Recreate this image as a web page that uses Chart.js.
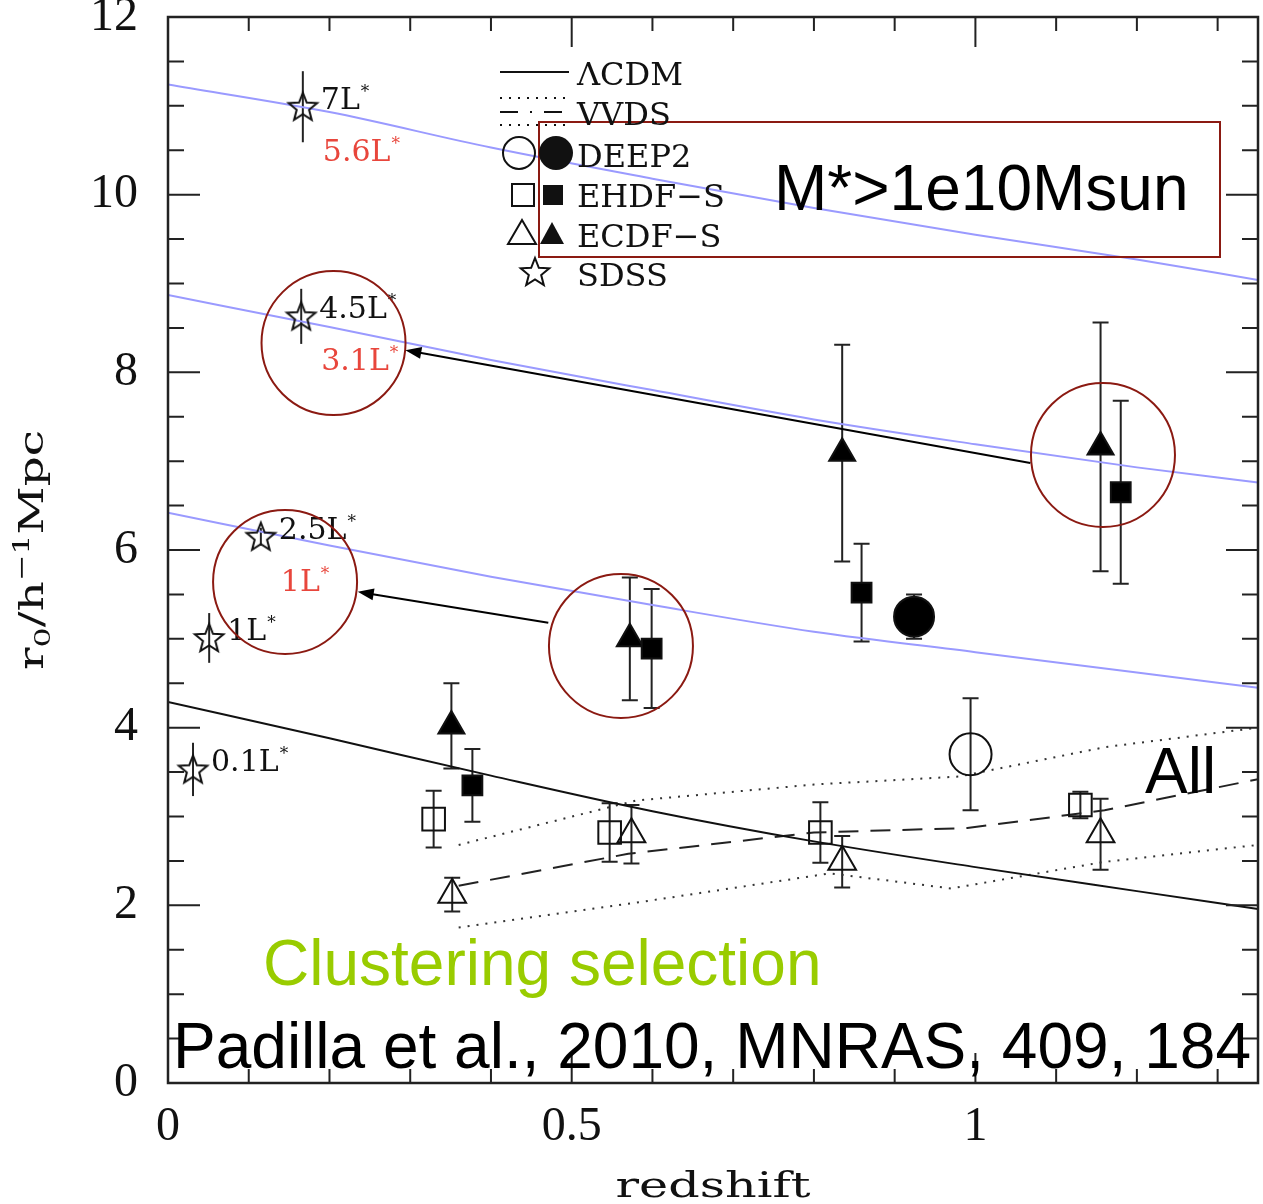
<!DOCTYPE html>
<html>
<head>
<meta charset="utf-8">
<script src="https://cdn.jsdelivr.net/npm/chart.js@4.4.0/dist/chart.umd.min.js"></script>
<style>
  body { margin: 0; background: #fff; overflow: hidden; }
  #wrap { width: 1263px; height: 1204px; }
</style>
</head>
<body>
<div id="wrap"><canvas id="chart"></canvas></div>
<script>
// tick labels
var xTicks = [0, 0.5, 1];
var yTicks = [0, 2, 4, 6, 8, 10, 12];

// model curves
var curveZ = [0, 0.2, 0.4, 0.6, 0.8, 1.0, 1.2, 1.35];
var lcdmR = [4.29, 3.88, 3.46, 3.06, 2.72, 2.43, 2.16, 1.96];
var blueTopR = [11.24, 10.93, 10.53, 10.18, 9.85, 9.55, 9.27, 9.04];
var blueMidR = [8.87, 8.51, 8.14, 7.80, 7.47, 7.19, 6.93, 6.76];
var blueLowR = [6.42, 6.05, 5.70, 5.38, 5.08, 4.85, 4.62, 4.45];

// VVDS mean and its range
var vvdsMeanZ = [0.36, 0.57, 0.80, 0.99, 1.16, 1.35];
var vvdsMeanR = [2.22, 2.58, 2.82, 2.87, 3.07, 3.42];
var vvdsHiZ = [0.36, 0.58, 0.80, 0.98, 1.16, 1.35];
var vvdsHiR = [2.68, 3.18, 3.36, 3.45, 3.78, 4.00];
var vvdsLoZ = [0.36, 0.58, 0.82, 0.97, 1.16, 1.35];
var vvdsLoR = [1.75, 2.03, 2.36, 2.19, 2.49, 2.68];

// measurements: open = all galaxies, filled = M* > 1e10 Msun
var deep2OpenZ = [0.994];
var deep2OpenR = [3.70];
var deep2OpenErr = [0.63];
var deep2FillZ = [0.924];
var deep2FillR = [5.25];
var deep2FillErr = [0.25];

var ehdfOpenZ = [0.329, 0.547, 0.808, 1.130];
var ehdfOpenR = [2.97, 2.82, 2.82, 3.13];
var ehdfOpenErr = [0.32, 0.33, 0.34, 0.15];
var ehdfFillZ = [0.377, 0.599, 0.859, 1.180];
var ehdfFillR = [3.35, 4.89, 5.52, 6.65];
var ehdfFillErr = [0.41, 0.67, 0.55, 1.03];

var ecdfOpenZ = [0.352, 0.574, 0.835, 1.155];
var ecdfOpenR = [2.12, 2.80, 2.49, 2.80];
var ecdfOpenErr = [0.19, 0.33, 0.29, 0.40];
var ecdfFillZ = [0.351, 0.572, 0.835, 1.155];
var ecdfFillR = [4.02, 5.00, 7.09, 7.16];
var ecdfFillErr = [0.48, 0.69, 1.22, 1.40];

var sdssZ = [0.031, 0.051, 0.115, 0.165, 0.167];
var sdssR = [3.53, 5.01, 6.15, 8.63, 10.99];
var sdssErr = [0.30, 0.28, 0.10, 0.31, 0.40];
var sdssLum = ['0.1L*', '1L*', '2.5L*', '4.5L*', '7L*'];
var sdssLumMass = ['', '', '1L*', '3.1L*', '5.6L*'];

function pts(xs, ys) {
  return xs.map(function (x, i) { return { x: x, y: ys[i] }; });
}

// open five-point star used for SDSS
var starImg = (function () {
  var c = document.createElement('canvas');
  c.width = 34; c.height = 34;
  var g = c.getContext('2d');
  g.strokeStyle = '#111';
  g.lineWidth = 2;
  g.beginPath();
  for (var i = 0; i < 10; i++) {
    var r = i % 2 === 0 ? 15 : 6.5;
    var a = -Math.PI / 2 + i * Math.PI / 5;
    var px = 17 + r * Math.cos(a), py = 18 + r * Math.sin(a);
    if (i === 0) g.moveTo(px, py); else g.lineTo(px, py);
  }
  g.closePath();
  g.stroke();
  return c;
})();

function pointSet(label, xs, ys, errs, style, radius, filled, cap) {
  return {
    label: label,
    data: pts(xs, ys),
    errs: errs,
    cap: cap,
    showLine: false,
    pointStyle: style,
    pointRadius: radius,
    pointHoverRadius: radius,
    pointBackgroundColor: filled ? '#000' : 'rgba(0,0,0,0)',
    pointBorderColor: '#111',
    pointBorderWidth: 2
  };
}

function lineSet(label, xs, ys, color, dash, smooth) {
  return {
    label: label,
    data: pts(xs, ys),
    showLine: true,
    pointRadius: 0,
    borderColor: color,
    borderWidth: 2,
    borderDash: dash,
    cubicInterpolationMode: smooth ? 'monotone' : 'default',
    tension: 0
  };
}

function arrow(ctx, x1, y1, x2, y2) {
  var ang = Math.atan2(y2 - y1, x2 - x1);
  ctx.beginPath();
  ctx.moveTo(x1, y1);
  ctx.lineTo(x2 - 12 * Math.cos(ang), y2 - 12 * Math.sin(ang));
  ctx.stroke();
  ctx.beginPath();
  ctx.moveTo(x2, y2);
  ctx.lineTo(x2 - 16 * Math.cos(ang) + 6 * Math.sin(ang), y2 - 16 * Math.sin(ang) - 6 * Math.cos(ang));
  ctx.lineTo(x2 - 16 * Math.cos(ang) - 6 * Math.sin(ang), y2 - 16 * Math.sin(ang) + 6 * Math.cos(ang));
  ctx.closePath();
  ctx.fill();
}

function lumText(ctx, s, x, y) {
  var base = s.replace('*', '');
  ctx.font = '30px "DejaVu Serif"';
  ctx.fillText(base, x, y);
  var w = ctx.measureText(base).width;
  ctx.font = '17px "DejaVu Serif"';
  ctx.fillText('*', x + w + 1, y - 12);
}

function stretchedText(ctx, parts, cx, cy, len, rot) {
  var total = 0;
  parts.forEach(function (p) { ctx.font = p[1]; total += ctx.measureText(p[0]).width; });
  ctx.save();
  ctx.translate(cx, cy);
  ctx.rotate(rot);
  ctx.scale(len / total, 1);
  var x = -total / 2;
  parts.forEach(function (p) {
    ctx.font = p[1];
    ctx.fillText(p[0], x, p[2]);
    x += ctx.measureText(p[0]).width;
  });
  ctx.restore();
}

var decor = {
  id: 'decor',
  beforeDatasetsDraw: function (chart) {
    var ctx = chart.ctx, xs = chart.scales.x, ys = chart.scales.y;
    ctx.save();
    ctx.strokeStyle = '#222';
    ctx.lineWidth = 2;
    chart.data.datasets.forEach(function (ds) {
      if (!ds.errs) return;
      ds.data.forEach(function (p, i) {
        var px = xs.getPixelForValue(p.x);
        var top = ys.getPixelForValue(p.y + ds.errs[i]);
        var bot = ys.getPixelForValue(p.y - ds.errs[i]);
        ctx.beginPath();
        ctx.moveTo(px, top);
        ctx.lineTo(px, bot);
        if (ds.cap) {
          ctx.moveTo(px - ds.cap, top); ctx.lineTo(px + ds.cap, top);
          ctx.moveTo(px - ds.cap, bot); ctx.lineTo(px + ds.cap, bot);
        }
        ctx.stroke();
      });
    });
    ctx.restore();
  },
  afterDraw: function (chart) {
    var ctx = chart.ctx, a = chart.chartArea, xs = chart.scales.x, ys = chart.scales.y;
    var X = function (v) { return xs.getPixelForValue(v); };
    var Y = function (v) { return ys.getPixelForValue(v); };
    ctx.save();

    // frame with inward ticks
    ctx.strokeStyle = '#222';
    ctx.lineWidth = 2.5;
    ctx.strokeRect(a.left, a.top, a.right - a.left, a.bottom - a.top);
    ctx.lineWidth = 2;
    ctx.beginPath();
    for (var k = 0; k <= 24; k++) {
      var y = Y(k / 2), len = k % 4 === 0 ? 32 : 16;
      ctx.moveTo(a.left, y); ctx.lineTo(a.left + len, y);
      ctx.moveTo(a.right, y); ctx.lineTo(a.right - len, y);
    }
    for (var j = 0; j <= 13; j++) {
      var x = X(j / 10), tl = j % 5 === 0 ? 30 : 14;
      ctx.moveTo(x, a.top); ctx.lineTo(x, a.top + tl);
      ctx.moveTo(x, a.bottom); ctx.lineTo(x, a.bottom - tl);
    }
    ctx.stroke();

    // SDSS luminosity labels
    ctx.textBaseline = 'alphabetic';
    ctx.textAlign = 'left';
    sdssZ.forEach(function (z, i) {
      var px = X(z) + 18, py = Y(sdssR[i]) + 2;
      ctx.fillStyle = '#111';
      lumText(ctx, sdssLum[i], px, py);
      if (sdssLumMass[i]) {
        ctx.fillStyle = '#e8463c';
        lumText(ctx, sdssLumMass[i], px + 2, py + 52);
      }
    });

    // highlight circles, arrows and box
    ctx.strokeStyle = '#8b1a12';
    ctx.lineWidth = 2;
    [[0.205, 8.33], [0.145, 5.64], [0.561, 4.92], [1.158, 7.07]].forEach(function (c) {
      ctx.beginPath();
      ctx.arc(X(c[0]), Y(c[1]), 72, 0, Math.PI * 2);
      ctx.stroke();
    });
    ctx.strokeRect(539, 122, 681, 135);

    ctx.strokeStyle = '#000';
    ctx.fillStyle = '#000';
    ctx.lineWidth = 2;
    arrow(ctx, X(1.068), Y(6.98), X(0.294), Y(8.25));
    arrow(ctx, X(0.471), Y(5.18), X(0.235), Y(5.53));

    // legend
    ctx.fillStyle = '#111';
    ctx.strokeStyle = '#111';
    ctx.font = '32px "DejaVu Serif"';
    ctx.lineWidth = 2;
    ctx.beginPath(); ctx.moveTo(500, 72); ctx.lineTo(569, 72); ctx.stroke();
    ctx.fillText('\u039BCDM', 577, 85);
    ctx.setLineDash([2, 7]);
    ctx.beginPath(); ctx.moveTo(500, 98); ctx.lineTo(569, 98); ctx.stroke();
    ctx.beginPath(); ctx.moveTo(500, 125); ctx.lineTo(569, 125); ctx.stroke();
    ctx.setLineDash([18, 12, 2, 12]);
    ctx.beginPath(); ctx.moveTo(500, 112); ctx.lineTo(569, 112); ctx.stroke();
    ctx.setLineDash([]);
    ctx.fillText('VVDS', 577, 125);

    ctx.beginPath(); ctx.arc(519, 153, 16, 0, Math.PI * 2); ctx.stroke();
    ctx.beginPath(); ctx.arc(556, 153, 17, 0, Math.PI * 2); ctx.fill();
    ctx.fillText('DEEP2', 577, 167);

    ctx.strokeRect(512, 184, 22, 22);
    ctx.fillRect(543, 185, 20, 20);
    ctx.fillText('EHDF\u2212S', 577, 207);

    ctx.beginPath(); ctx.moveTo(522, 220); ctx.lineTo(536, 244); ctx.lineTo(508, 244); ctx.closePath(); ctx.stroke();
    ctx.beginPath(); ctx.moveTo(552, 222); ctx.lineTo(564, 244); ctx.lineTo(540, 244); ctx.closePath(); ctx.fill();
    ctx.fillText('ECDF\u2212S', 577, 247);

    ctx.drawImage(starImg, 535 - 17, 273 - 18);
    ctx.fillText('SDSS', 577, 286);

    // annotations
    ctx.fillStyle = '#000';
    ctx.font = '64px "Liberation Sans"';
    ctx.fillText('M*>1e10Msun', 774, 210);
    ctx.fillText('All', 1145, 793);
    ctx.fillStyle = '#99cc00';
    ctx.fillText('Clustering selection', 263, 985);
    ctx.fillStyle = '#000';
    ctx.fillText('Padilla et al., 2010, MNRAS, 409, 184', 173, 1068);

    // axis titles
    ctx.fillStyle = '#111';
    stretchedText(ctx, [['redshift', '36px "DejaVu Serif"', 0]], (a.left + a.right) / 2, 1197, 195, 0);
    stretchedText(ctx, [
      ['r', '34px "DejaVu Serif"', 0],
      ['0', '23px "DejaVu Serif"', 7],
      ['/', '34px "DejaVu Serif"', 0],
      ['h', '34px "DejaVu Serif"', 0],
      ['\u22121', '23px "DejaVu Serif"', -14],
      ['Mpc', '34px "DejaVu Serif"', 0]
    ], 43, 550, 240, -Math.PI / 2);

    ctx.restore();
  }
};

var datasets = [
  pointSet('DEEP2 all', deep2OpenZ, deep2OpenR, deep2OpenErr, 'circle', 21, false, 8),
  pointSet('DEEP2 massive', deep2FillZ, deep2FillR, deep2FillErr, 'circle', 20, true, 8),
  pointSet('EHDF-S all', ehdfOpenZ, ehdfOpenR, ehdfOpenErr, 'rect', 16, false, 8),
  pointSet('EHDF-S massive', ehdfFillZ, ehdfFillR, ehdfFillErr, 'rect', 14, true, 8),
  pointSet('ECDF-S all', ecdfOpenZ, ecdfOpenR, ecdfOpenErr, 'triangle', 16, false, 8),
  pointSet('ECDF-S massive', ecdfFillZ, ecdfFillR, ecdfFillErr, 'triangle', 15, true, 8),
  pointSet('SDSS', sdssZ, sdssR, sdssErr, starImg, 15, false, 0),
  lineSet('LCDM', curveZ, lcdmR, '#111', [], true),
  lineSet('VVDS', vvdsMeanZ, vvdsMeanR, '#222', [20, 12], false),
  lineSet('VVDS hi', vvdsHiZ, vvdsHiR, '#333', [2, 7], false),
  lineSet('VVDS lo', vvdsLoZ, vvdsLoR, '#333', [2, 7], false),
  lineSet('r0 top', curveZ, blueTopR, '#9a9aff', [], true),
  lineSet('r0 mid', curveZ, blueMidR, '#9a9aff', [], true),
  lineSet('r0 low', curveZ, blueLowR, '#9a9aff', [], true)
];

var tickFont = { family: 'Liberation Serif', size: 48 };

new Chart(document.getElementById('chart'), {
  type: 'scatter',
  data: { datasets: datasets },
  options: {
    responsive: true,
    maintainAspectRatio: false,
    animation: false,
    layout: { autoPadding: false, padding: { left: 0, top: 17, right: 5, bottom: 0 } },
    plugins: { legend: { display: false }, tooltip: { enabled: false } },
    scales: {
      x: {
        type: 'linear', min: 0, max: 1.35,
        grid: { display: false, drawTicks: false },
        border: { display: false },
        afterBuildTicks: function (s) { s.ticks = xTicks.map(function (v) { return { value: v }; }); },
        afterFit: function (s) { s.height = 121; s.paddingLeft = 0; s.paddingRight = 0; },
        ticks: { font: tickFont, color: '#111', padding: 16, maxRotation: 0, autoSkip: false,
                 callback: function (v) { return String(v); } }
      },
      y: {
        type: 'linear', min: 0, max: 12,
        grid: { display: false, drawTicks: false },
        border: { display: false },
        afterBuildTicks: function (s) { s.ticks = yTicks.map(function (v) { return { value: v }; }); },
        afterFit: function (s) { s.width = 168; s.paddingTop = 0; s.paddingBottom = 0; },
        ticks: { font: tickFont, color: '#111', padding: 30, autoSkip: false,
                 callback: function (v) { return String(v); } }
      }
    }
  },
  plugins: [decor]
});
</script>
</body>
</html>
